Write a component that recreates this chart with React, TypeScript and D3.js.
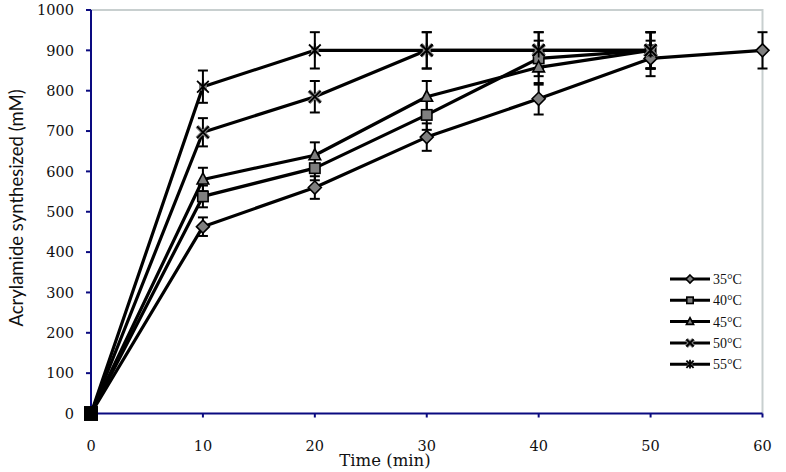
import React from "react";
import * as d3 from "d3";

const times = [0, 10, 20, 30, 40, 50, 60];
const seriesNames = ["35°C", "40°C", "45°C", "50°C", "55°C"];
const markers = ["diamond", "square", "triangle", "cross", "star"];
const v35 = [0, 463, 560, 685, 780, 880, 900];
const v40 = [0, 538, 608, 740, 880, 900];
const v45 = [0, 580, 640, 785, 858, 900];
const v50 = [0, 697, 785, 900, 900, 900];
const v55 = [0, 810, 900, 900, 900, 900];
const e35 = [0, 23, 28, 34, 39, 44, 45];
const e40 = [0, 27, 30, 37, 44, 45];
const e45 = [0, 29, 32, 39, 43, 45];
const e50 = [0, 35, 39, 45, 45, 45];
const e55 = [0, 40, 45, 45, 45, 45];
const yTicks = [0, 100, 200, 300, 400, 500, 600, 700, 800, 900, 1000];
const xTicks = [0, 10, 20, 30, 40, 50, 60];

const values = [v35, v40, v45, v50, v55];
const errors = [e35, e40, e45, e50, e55];

const W = 786, H = 472;
const x = d3.scaleLinear().domain([0, 60]).range([91, 762.5]);
const y = d3.scaleLinear().domain([0, 1000]).range([413.5, 10]);
const AX = "#0a0a80";
const SERIF = "'DejaVu Serif', serif";
const TNR = "'Liberation Serif', serif";

function Marker({ type, cx, cy, s }: { type: string; cx: number; cy: number; s: number }) {
  const fill = "#7f7f7f";
  const st = { stroke: "#000", strokeWidth: 1.6 };
  if (type === "diamond") {
    return <path d={`M${cx},${cy - s}L${cx + s},${cy}L${cx},${cy + s}L${cx - s},${cy}Z`} fill={fill} {...st} />;
  }
  if (type === "square") {
    return <rect x={cx - s * 0.8} y={cy - s * 0.8} width={s * 1.6} height={s * 1.6} fill={fill} {...st} />;
  }
  if (type === "triangle") {
    return <path d={`M${cx},${cy - s}L${cx + s * 0.9},${cy + s * 0.7}L${cx - s * 0.9},${cy + s * 0.7}Z`} fill={fill} {...st} />;
  }
  if (type === "cross") {
    const k = s * 0.9;
    return (
      <g>
        <path d={`M${cx - k},${cy - k}L${cx + k},${cy + k}M${cx + k},${cy - k}L${cx - k},${cy + k}`} stroke={fill} strokeWidth={4} />
        <path d={`M${cx - k},${cy - k}L${cx + k},${cy + k}M${cx + k},${cy - k}L${cx - k},${cy + k}`} stroke="#000" strokeWidth={1.8} />
      </g>
    );
  }
  const k = s * 0.9;
  return (
    <g>
      <rect x={cx - s * 0.6} y={cy - s * 0.6} width={s * 1.2} height={s * 1.2} fill={fill} />
      <path d={`M${cx - k},${cy - k}L${cx + k},${cy + k}M${cx + k},${cy - k}L${cx - k},${cy + k}M${cx},${cy - s * 1.1}L${cx},${cy + s * 1.1}`} stroke="#000" strokeWidth={1.8} />
    </g>
  );
}

export default function App() {
  const line = d3.line<number>().x((_, i) => x(times[i])).y((d) => y(d));
  return (
    <svg width={W} height={H} style={{ position: "absolute", left: 0, top: 0, background: "#fff" }}>
      {/* frame */}
      <path d={`M${x(0)},${y(1000)}H${x(60)}V${y(0)}`} fill="none" stroke="#c8cfcf" strokeWidth={2} />
      {/* axes */}
      <line x1={x(0)} x2={x(60)} y1={y(0)} y2={y(0)} stroke={AX} strokeWidth={2} />
      <line x1={x(0)} x2={x(0)} y1={y(0)} y2={y(1000)} stroke={AX} strokeWidth={2} />
      {yTicks.map((t) => (
        <g key={"y" + t}>
          <line x1={x(0) - 5} x2={x(0)} y1={y(t)} y2={y(t)} stroke={AX} strokeWidth={2} />
          <text x={74} y={y(t)} dy="0.36em" textAnchor="end" fontFamily={SERIF} fontSize={14.5} fill="#111">{t}</text>
        </g>
      ))}
      {xTicks.map((t) => (
        <g key={"x" + t}>
          <line x1={x(t)} x2={x(t)} y1={y(0)} y2={y(0) + 4} stroke={AX} strokeWidth={2} />
          <text x={x(t)} y={451} textAnchor="middle" fontFamily={SERIF} fontSize={14.5} fill="#111">{t}</text>
        </g>
      ))}
      <text x={385} y={466} textAnchor="middle" fontFamily={SERIF} fontSize={16.5} fill="#111">Time (min)</text>
      <text transform={`translate(23,208) rotate(-90)`} textAnchor="middle" fontFamily="Lato, 'Open Sans', sans-serif" fontSize={18.5} fill="#111">Acrylamide synthesized (mM)</text>

      {/* series lines */}
      {values.map((vals, si) => (
        <path key={"l" + si} d={line(vals) || ""} fill="none" stroke="#000" strokeWidth={3.2} strokeLinejoin="round" />
      ))}
      {/* error bars */}
      {values.map((vals, si) =>
        vals.map((v, i) => {
          const e = errors[si][i];
          if (!e) return null;
          const cx = x(times[i]);
          return (
            <g key={`e${si}-${i}`} stroke="#000" strokeWidth={2}>
              <line x1={cx} x2={cx} y1={y(v - e)} y2={y(v + e)} />
              <line x1={cx - 5} x2={cx + 5} y1={y(v - e)} y2={y(v - e)} />
              <line x1={cx - 5} x2={cx + 5} y1={y(v + e)} y2={y(v + e)} />
            </g>
          );
        })
      )}
      {/* markers */}
      {values.map((vals, si) =>
        vals.map((v, i) =>
          i === 0 ? (
            <rect key={`m${si}-${i}`} x={x(0) - 7} y={y(0) - 7} width={14} height={14} fill="#000" />
          ) : (
            <Marker key={`m${si}-${i}`} type={markers[si]} cx={x(times[i])} cy={y(v)} s={6.5} />
          )
        )
      )}
      {/* legend */}
      {seriesNames.map((n, i) => {
        const ly = 279 + i * 21.3;
        return (
          <g key={"lg" + i}>
            <line x1={670} x2={710} y1={ly} y2={ly} stroke="#000" strokeWidth={3} />
            <Marker type={markers[i]} cx={690} cy={ly} s={4} />
            <text x={713} y={ly} dy="0.35em" fontFamily={TNR} fontSize={14} fill="#111">{n}</text>
          </g>
        );
      })}
    </svg>
  );
}
